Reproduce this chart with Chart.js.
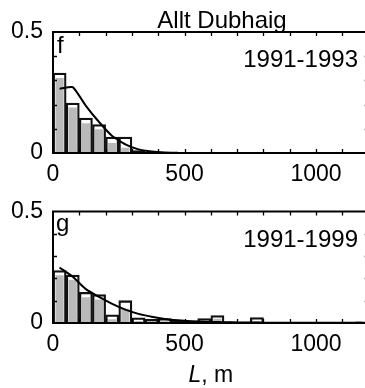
<!DOCTYPE html>
<html>
<head>
<meta charset="utf-8">
<script src="https://cdn.jsdelivr.net/npm/chart.js@4.4.1/dist/chart.umd.min.js"></script>
<style>
  html, body { margin: 0; padding: 0; background: #fff; overflow: hidden; }
  #wrap { position: relative; width: 365px; height: 388px; overflow: hidden; }
  canvas { position: absolute; left: 0; }
</style>
</head>
<body>
<div id="wrap">
  <canvas id="panelF" width="380" height="190" style="top:0px"></canvas>
  <canvas id="panelG" width="380" height="198" style="top:190px"></canvas>
</div>
<script>
// Bin centres (50 m bins), L in metres
const binCenters = [25, 75, 125, 175, 225, 275, 325, 375, 425, 475,
                    525, 575, 625, 675, 725, 775, 825, 875, 925, 975,
                    1025, 1075, 1125, 1175];

// Panel f, 1991-1993
const fGrey    = [0.32, 0.198, 0.133, 0.108, 0.052, 0.032, 0.004, 0.0, 0.0, 0.0];
const fOutline = [0.33, 0.206, 0.144, 0.117, 0.066, 0.066, 0.010, 0.004, 0.001, 0.001];
const fCurve   = [0.265, 0.272, 0.195, 0.128, 0.07, 0.036, 0.015, 0.006, 0.002, 0.001];

// Panel g, 1991-1999
const gGrey    = [0.225, 0.205, 0.127, 0.117, 0.028, 0.075, 0.016, 0.011, 0.012, 0.007,
                  0.006, 0.015, 0.03, 0.003, 0.003, 0.016, 0.002, 0.002, 0.001, 0.001,
                  0.001, 0.001, 0.002, 0.004];
const gOutline = [0.235, 0.215, 0.138, 0.127, 0.037, 0.100, 0.023, 0.016, 0.020, 0.012,
                  0.010, 0.020, 0.033, 0.005, 0.004, 0.024, 0.003, 0.002, 0.002, 0.002,
                  0.001, 0.001, 0.003, 0.005];
const gCurve   = [0.249, 0.207, 0.152, 0.117, 0.086, 0.060, 0.041, 0.028, 0.018, 0.012,
                  0.008, 0.006, 0.004, 0.003, 0.002, 0.002, 0.001, 0.001, 0.001, 0.001,
                  0.001, 0.001, 0.001, 0.001];

// Axis ticks
const xLabelTicks = [0, 500, 1000];
const yLabelTicks = [0, 0.5];
const xMinorTicks = [100, 200, 300, 400, 500, 600, 700, 800, 900, 1000, 1100];
const yMinorTicks = [0.1, 0.2, 0.3, 0.4];

const FONT = '"Liberation Sans", Arial, Helvetica, sans-serif';

function pts(vals) {
    return vals.map((v, i) => ({ x: binCenters[i], y: v }));
}

// frame, inward ticks and panel texts
const framePlugin = {
    id: 'frame',
    afterDatasetsDraw(chart, args, opts) {
        const { ctx, chartArea: a, scales: { x, y } } = chart;
        ctx.save();
        ctx.strokeStyle = '#000';
        ctx.lineWidth = 2;
        ctx.strokeRect(a.left, a.top, a.right - a.left, a.bottom - a.top);

        ctx.lineWidth = 1.3;
        ctx.beginPath();
        xMinorTicks.forEach(v => {
            const px = Math.round(x.getPixelForValue(v)) + 0.5;
            ctx.moveTo(px, a.top); ctx.lineTo(px, a.top + 4);
            ctx.moveTo(px, a.bottom); ctx.lineTo(px, a.bottom - 4);
        });
        yMinorTicks.forEach(v => {
            const py = Math.round(y.getPixelForValue(v)) + 0.5;
            ctx.moveTo(a.left, py); ctx.lineTo(a.left + 4, py);
            ctx.moveTo(a.right, py); ctx.lineTo(a.right - 4, py);
        });
        ctx.stroke();

        ctx.fillStyle = '#000';
        ctx.textBaseline = 'alphabetic';
        ctx.font = '24px ' + FONT;
        ctx.textAlign = 'left';
        ctx.fillText(opts.letter, a.left + opts.letterDx, a.top + opts.letterDy);
        ctx.textAlign = 'right';
        ctx.fillText(opts.period, 358, a.top + 35);

        if (opts.title) {
            ctx.textAlign = 'center';
            ctx.fillText(opts.title, 222, 28);
        }
        if (opts.xTitle) {
            // "L" in italics, then ", m"
            ctx.font = 'italic 23px ' + FONT;
            const w1 = ctx.measureText('L').width;
            ctx.font = '23px ' + FONT;
            const w2 = ctx.measureText(', m').width;
            const cx = (a.left + a.right) / 2;
            const x0 = cx - (w1 + w2) / 2;
            ctx.textAlign = 'left';
            ctx.font = 'italic 23px ' + FONT;
            ctx.fillText('L', x0, opts.xTitleY);
            ctx.font = '23px ' + FONT;
            ctx.fillText(', m', x0 + w1, opts.xTitleY);
        }
        ctx.restore();
    }
};

function makePanel(id, grey, outline, curve, tension, frameOpts, padTop, xHeight) {
    return new Chart(document.getElementById(id), {
        type: 'bar',
        data: {
            datasets: [
                {
                    type: 'line',
                    data: pts(curve),
                    borderColor: '#000',
                    borderWidth: 2,
                    pointRadius: 0,
                    tension: tension,
                    order: 0
                },
                {
                    data: pts(outline),
                    backgroundColor: 'rgba(0,0,0,0)',
                    borderColor: '#111',
                    borderWidth: 1.6,
                    grouped: false,
                    barPercentage: 1,
                    categoryPercentage: 1,
                    order: 1
                },
                {
                    data: pts(grey),
                    backgroundColor: '#bababa',
                    borderColor: '#fff',
                    borderWidth: 2.8,
                    grouped: false,
                    barPercentage: 1,
                    categoryPercentage: 1,
                    order: 2
                }
            ]
        },
        options: {
            responsive: false,
            animation: false,
            events: [],
            layout: { padding: { top: padTop, right: 11.3, left: 0, bottom: 0 } },
            plugins: {
                legend: { display: false },
                tooltip: { enabled: false },
                frame: frameOpts
            },
            scales: {
                x: {
                    type: 'linear',
                    min: 0,
                    max: 1200,
                    offset: false,
                    grid: { display: false, drawTicks: false },
                    border: { display: false },
                    afterBuildTicks: s => { s.ticks = xLabelTicks.map(v => ({ value: v })); },
                    ticks: {
                        autoSkip: false,
                        maxRotation: 0,
                        padding: 10,
                        color: '#000',
                        font: { family: FONT, size: 23, lineHeight: 1 },
                        callback: v => String(v)
                    },
                    afterFit: s => { s.height = xHeight; }
                },
                y: {
                    min: 0,
                    max: 0.5,
                    grid: { display: false, drawTicks: false },
                    border: { display: false },
                    afterBuildTicks: s => { s.ticks = yLabelTicks.map(v => ({ value: v })); },
                    ticks: {
                        padding: 10,
                        color: '#000',
                        font: { family: FONT, size: 23, lineHeight: 1 },
                        callback: v => String(v)
                    },
                    afterFit: s => { s.width = 53; }
                }
            }
        },
        plugins: [framePlugin]
    });
}

makePanel('panelF', fGrey, fOutline, fCurve, 0.15,
    { letter: 'f', letterDx: 4, letterDy: 21, period: '1991-1993', title: 'Allt Dubhaig' },
    32, 37);

makePanel('panelG', gGrey, gOutline, gCurve, 0.3,
    { letter: 'g', letterDx: 3, letterDy: 19, period: '1991-1999', xTitle: true, xTitleY: 192 },
    13, 65);
</script>
</body>
</html>
